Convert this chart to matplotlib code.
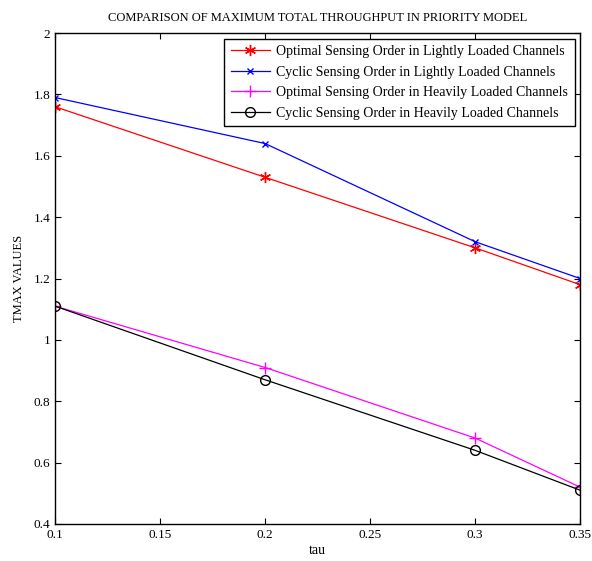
import matplotlib
matplotlib.use("Agg")
import matplotlib.pyplot as plt

plt.rcParams["font.family"] = ["Liberation Serif", "DejaVu Serif"]

tau = [0.1, 0.2, 0.3, 0.35]
optimal_light = [1.76, 1.53, 1.30, 1.18]
cyclic_light = [1.79, 1.64, 1.32, 1.20]
optimal_heavy = [1.11, 0.91, 0.68, 0.52]
cyclic_heavy = [1.11, 0.87, 0.64, 0.51]

labels = [
    "Optimal Sensing Order in Lightly Loaded Channels",
    "Cyclic Sensing Order in Lightly Loaded Channels",
    "Optimal Sensing Order in Heavily Loaded Channels",
    "Cyclic Sensing Order in Heavily Loaded Channels",
]

fig = plt.figure(figsize=(5.92, 5.61), dpi=100)
ax = fig.add_axes([0.093, 0.066, 0.887, 0.875])

# MATLAB-style asterisk: 6-pointed line marker
ax.plot(tau, optimal_light, color="red", marker=(6, 2, 0), markersize=8, mew=1.0, lw=0.9, label=labels[0])
ax.plot(tau, cyclic_light, color="blue", marker="x", markersize=4, mew=1.0, lw=0.9, label=labels[1])
ax.plot(tau, optimal_heavy, color="magenta", marker="+", markersize=8, mew=1.0, lw=0.9, label=labels[2])
ax.plot(tau, cyclic_heavy, color="black", marker="o", markersize=7, mfc="none", lw=0.9, label=labels[3])

ax.set_xlim(0.1, 0.35)
ax.set_ylim(0.4, 2.0)
ax.set_xticks([0.1, 0.15, 0.2, 0.25, 0.3, 0.35])
ax.set_xticklabels(["0.1", "0.15", "0.2", "0.25", "0.3", "0.35"])
ax.set_yticks([0.4, 0.6, 0.8, 1.0, 1.2, 1.4, 1.6, 1.8, 2.0])
ax.set_yticklabels(["0.4", "0.6", "0.8", "1", "1.2", "1.4", "1.6", "1.8", "2"])
ax.tick_params(direction="in", top=True, right=True, labelsize=9.5, length=4, width=0.8)
for s in ax.spines.values():
    s.set_linewidth(1.0)

ax.set_title("COMPARISON OF MAXIMUM TOTAL THROUGHPUT IN PRIORITY MODEL", fontsize=9, pad=9)
ax.set_xlabel("tau", fontsize=10, labelpad=2)
ax.set_ylabel("TMAX VALUES", fontsize=9, labelpad=6)

leg = ax.legend(loc="upper right", fontsize=10, fancybox=False, framealpha=1,
                edgecolor="black", borderaxespad=0.4, handlelength=2.8,
                labelspacing=0.55, borderpad=0.45, handletextpad=0.5)
leg.get_frame().set_linewidth(1.0)

fig.savefig("out.png", dpi=100)
